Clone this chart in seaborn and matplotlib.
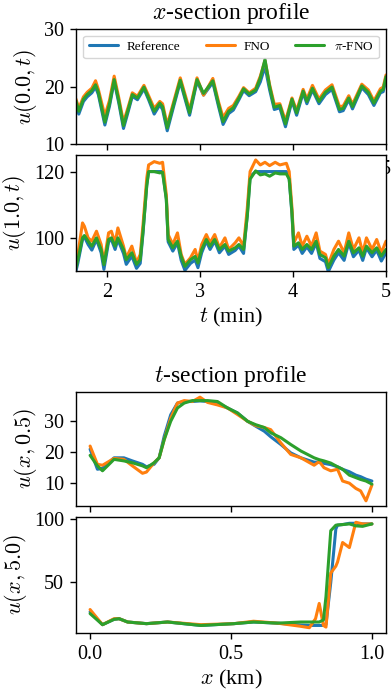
import numpy as np
import pandas as pd
import seaborn as sns
import matplotlib
matplotlib.use("Agg")
import matplotlib.pyplot as plt

# ---------------- data ----------------
series_names = ["Reference", "FNO", r"$\pi$-FNO"]
series_colors = ["#1f77b4", "#ff7f0e", "#2ca02c"]

# x-section, u(0.0, t)
t1 = [1.67, 1.70, 1.75, 1.79, 1.84, 1.88, 1.91, 1.98, 2.03, 2.08,
      2.13, 2.18, 2.23, 2.275, 2.33, 2.40, 2.45, 2.51, 2.57, 2.60,
      2.65, 2.72, 2.79, 2.89, 2.97, 3.04, 3.14, 3.20, 3.25, 3.31,
      3.36, 3.42, 3.47, 3.53, 3.60, 3.65, 3.70, 3.75, 3.80, 3.86,
      3.92, 3.99, 4.04, 4.11, 4.15, 4.21, 4.28, 4.35, 4.42, 4.50,
      4.54, 4.60, 4.64, 4.74, 4.81, 4.87, 4.94, 4.97, 5.00]
ref1 = [17.2, 15.2, 17.4, 18.2, 18.9, 19.9, 18.6, 13.3, 16.6, 20.9,
        17.1, 12.7, 15.6, 18.3, 17.7, 19.6, 17.7, 15.2, 16.8, 16.0,
        12.3, 16.6, 20.8, 15.0, 20.9, 18.5, 20.7, 16.6, 13.4, 15.3,
        15.9, 17.7, 19.3, 18.4, 19.1, 20.8, 23.5, 19.4, 16.0, 16.3,
        13.0, 17.5, 15.0, 18.9, 17.0, 19.4, 17.0, 18.6, 19.5, 15.6,
        15.8, 17.7, 16.1, 19.8, 18.6, 16.7, 18.9, 19.1, 21.3]
fno1 = [17.8, 16.2, 18.2, 19.0, 19.7, 21.0, 19.5, 14.9, 17.6, 21.8,
        18.0, 13.8, 16.4, 18.9, 18.3, 20.2, 18.4, 16.2, 17.4, 17.0,
        13.3, 17.4, 21.5, 15.9, 21.5, 18.5, 21.4, 17.4, 14.6, 16.2,
        16.7, 18.3, 19.8, 18.9, 19.7, 21.8, 24.5, 20.3, 16.9, 17.0,
        14.0, 18.0, 15.8, 19.5, 17.8, 20.2, 17.8, 19.4, 20.3, 16.5,
        16.6, 18.4, 16.9, 20.4, 19.4, 17.5, 19.6, 19.9, 22.0]
pifno1 = [17.5, 15.7, 17.8, 18.6, 19.3, 20.3, 19.0, 13.8, 17.0, 21.2,
          17.5, 13.2, 16.0, 18.6, 18.0, 19.9, 18.0, 15.7, 17.1, 16.5,
          12.8, 17.0, 21.1, 15.4, 21.2, 18.8, 21.0, 17.0, 13.9, 15.7,
          16.3, 18.0, 19.6, 18.7, 19.4, 21.5, 24.7, 20.0, 16.4, 16.7,
          13.5, 17.8, 15.4, 19.2, 17.4, 19.7, 17.4, 19.0, 19.9, 16.0,
          16.2, 18.0, 16.5, 20.1, 19.0, 17.1, 19.2, 19.5, 21.7]

# x-section, u(1.0, t)
t2 = [1.67, 1.69, 1.74, 1.76, 1.80, 1.84, 1.89, 1.94, 1.97, 2.02,
      2.05, 2.09, 2.12, 2.18, 2.21, 2.27, 2.32, 2.36, 2.39, 2.43,
      2.45, 2.51, 2.57, 2.60, 2.64, 2.66, 2.71, 2.76, 2.80, 2.84,
      2.90, 2.95, 2.98, 3.02, 3.07, 3.11, 3.16, 3.21, 3.27, 3.31,
      3.38, 3.42, 3.47, 3.51, 3.54, 3.60, 3.65, 3.70, 3.75, 3.81,
      3.86, 3.93, 3.96, 3.99, 4.01, 4.06, 4.10, 4.15, 4.20, 4.25,
      4.29, 4.35, 4.38, 4.44, 4.49, 4.55, 4.60, 4.65, 4.71, 4.75,
      4.79, 4.85, 4.90, 4.95, 5.00]
ref2 = [90.0, 92.4, 99.5, 100.3, 98.0, 96.3, 99.5, 95.5, 90.5, 98.8,
        99.5, 96.5, 99.5, 95.3, 92.0, 94.5, 90.8, 92.3, 101.5, 116.0,
        120.0, 120.0, 120.0, 120.0, 112.0, 98.8, 96.0, 98.5, 93.2, 90.2,
        92.3, 93.3, 91.0, 95.5, 99.0, 96.5, 99.0, 95.5, 97.5, 95.0,
        96.2, 97.5, 95.3, 107.0, 118.5, 120.0, 120.0, 120.0, 120.0, 120.0,
        120.0, 120.0, 118.0, 107.0, 96.5, 97.8, 95.3, 97.3, 95.3, 98.5,
        93.8, 92.8, 89.8, 93.3, 95.5, 93.2, 98.5, 94.3, 96.3, 93.2,
        97.0, 94.3, 96.3, 93.0, 95.5]
fno2 = [92.0, 95.0, 104.5, 103.5, 100.0, 99.0, 102.0, 98.0, 92.5, 101.5,
        102.0, 98.5, 103.0, 97.5, 94.0, 97.5, 92.5, 95.0, 104.0, 118.0,
        122.0, 123.0, 122.5, 122.8, 113.0, 101.0, 98.0, 101.5, 95.0, 92.0,
        94.0, 96.5, 93.0, 98.0, 101.0, 98.5, 101.0, 97.0, 100.0, 96.5,
        98.5, 100.0, 97.5, 109.0, 120.0, 123.5, 122.0, 122.8, 121.8, 122.8,
        122.0, 122.5, 120.0, 109.0, 98.5, 101.5, 97.5, 100.5, 97.5, 101.5,
        96.0, 95.0, 92.0, 96.5, 99.0, 95.5, 101.5, 96.5, 100.0, 95.5,
        100.0, 96.5, 99.5, 95.5, 99.0]
pifno2 = [91.0, 93.4, 100.0, 100.7, 99.0, 97.5, 100.0, 96.5, 91.9, 99.5,
          100.0, 97.5, 100.0, 96.5, 93.4, 95.5, 92.0, 93.4, 102.0, 115.7,
          120.0, 120.0, 119.6, 119.8, 111.6, 99.5, 97.0, 99.0, 94.4, 91.4,
          93.4, 94.4, 92.4, 96.5, 99.5, 97.5, 99.5, 96.5, 98.0, 96.0,
          97.0, 98.0, 96.5, 106.6, 117.7, 120.2, 119.0, 119.3, 118.6, 119.6,
          119.3, 119.3, 117.7, 107.6, 97.5, 98.5, 96.5, 98.0, 96.5, 99.0,
          95.0, 94.0, 91.0, 94.5, 96.5, 94.5, 99.0, 95.5, 97.0, 94.5,
          97.5, 95.5, 97.0, 94.5, 96.5]

# t-section, u(x, 0.5)
x3 = [0.0, 0.026, 0.044, 0.085, 0.12, 0.15, 0.186, 0.20, 0.227, 0.245,
      0.263, 0.286, 0.31, 0.334, 0.363, 0.39, 0.417, 0.452, 0.488, 0.523,
      0.559, 0.588, 0.618, 0.641, 0.677, 0.712, 0.748, 0.795, 0.813, 0.83,
      0.854, 0.878, 0.896, 0.92, 0.943, 0.96, 0.979, 1.0]
ref3 = [21.0, 14.5, 14.8, 18.2, 18.2, 17.2, 16.1, 15.3, 16.1, 18.2,
        25.2, 32.1, 35.9, 36.4, 36.4, 36.6, 36.4, 35.9, 34.3, 32.7,
        30.0, 28.4, 26.8, 25.0, 22.5, 19.8, 18.2, 16.8, 16.8, 16.4,
        16.0, 15.3, 14.5, 13.7, 12.6, 12.1, 11.3, 10.7]
fno3 = [22.0, 16.1, 15.8, 18.0, 17.7, 15.6, 13.2, 13.6, 16.6, 18.2,
        24.1, 31.0, 35.9, 36.7, 36.4, 37.8, 36.1, 35.3, 34.3, 32.2,
        30.0, 28.6, 28.0, 27.3, 23.0, 19.3, 18.2, 15.8, 17.0, 15.0,
        14.0, 14.5, 10.7, 10.0, 8.3, 7.5, 4.3, 9.4]
pifno3 = [19.0, 15.6, 14.0, 17.7, 17.2, 16.6, 15.6, 15.0, 16.6, 18.2,
          24.1, 30.0, 34.3, 35.9, 36.7, 36.7, 36.7, 36.4, 34.3, 32.7,
          30.0, 28.9, 28.0, 26.3, 24.7, 22.5, 20.4, 18.2, 17.6, 17.2,
          16.5, 15.3, 14.5, 12.6, 11.8, 11.2, 10.7, 9.7]

# t-section, u(x, 5.0)
x4 = [0.0, 0.044, 0.085, 0.103, 0.133, 0.2, 0.275, 0.393, 0.51, 0.58,
      0.665, 0.748, 0.778, 0.80, 0.813, 0.828, 0.837, 0.854, 0.872, 0.878,
      0.896, 0.92, 0.943, 0.967, 1.0]
ref4 = [26.9, 16.8, 21.0, 21.5, 18.9, 17.6, 18.9, 16.2, 17.6, 18.9,
        18.0, 16.5, 16.2, 16.2, 16.2, 16.2, 17.0, 50.0, 92.0, 95.0,
        95.5, 96.5, 96.5, 96.0, 96.0]
fno4 = [28.7, 16.8, 21.5, 21.5, 18.9, 17.6, 18.9, 16.8, 17.6, 19.5,
        18.0, 15.5, 14.4, 21.5, 33.5, 16.2, 14.9, 57.4, 62.8, 66.0,
        81.4, 77.4, 97.3, 96.0, 96.0]
pifno4 = [25.5, 16.8, 21.0, 21.5, 18.9, 17.6, 18.9, 16.2, 17.6, 18.9,
          18.0, 18.9, 18.9, 18.9, 18.9, 20.5, 38.8, 90.7, 95.0, 95.2,
          95.5, 96.0, 94.5, 94.1, 96.0]

# ---------------- style ----------------
sns.set_style("ticks")
plt.rcParams["font.family"] = ["Liberation Serif", "DejaVu Serif"]
plt.rcParams["mathtext.fontset"] = "cm"
plt.rcParams["axes.edgecolor"] = "black"
plt.rcParams["xtick.color"] = "black"
plt.rcParams["ytick.color"] = "black"
plt.rcParams["text.color"] = "black"
plt.rcParams["axes.labelcolor"] = "black"

W, H = 391, 696
fig = plt.figure(figsize=(W / 100, H / 100), dpi=100)

def add_ax(left, right, top, bottom):
    return fig.add_axes([left / W, (H - bottom) / H, (right - left) / W, (bottom - top) / H])

TICK = 14.5
LAB = 16
TIT = 17

def draw(ax, x, ys, legend=False):
    for y, name, c in zip(ys, series_names, series_colors):
        df = pd.DataFrame({"x": x, "y": y})
        sns.lineplot(data=df, x="x", y="y", ax=ax, color=c, linewidth=2.2,
                     label=name if legend else None, estimator=None, sort=False)
    ax.tick_params(labelsize=TICK, width=1.0, length=4.5, pad=4)
    for s in ax.spines.values():
        s.set_linewidth(1.0)
    ax.set_facecolor("white")

ax1 = add_ax(76, 386, 29, 144)
draw(ax1, t1, [ref1, fno1, pifno1], legend=True)
ax1.set_xlim(1.67, 5.0)
ax1.set_ylim(10, 30)
ax1.set_yticks([10, 20, 30])
ax1.set_xticks([2, 3, 4, 5])
ax1.tick_params(axis="x", pad=7)
ax1.set_xlabel("")
ax1.set_ylabel(r"$u(0.0, t)$", fontsize=LAB)
ax1.set_title(r"$x$-section profile", fontsize=TIT, pad=7)
ax1.legend(loc="upper center", ncol=3, fontsize=9.5, handlelength=2.2,
           handletextpad=0.7, columnspacing=1.9, borderaxespad=0.5)

ax2 = add_ax(76, 386, 155, 271)
draw(ax2, t2, [ref2, fno2, pifno2])
ax2.set_xlim(1.67, 5.0)
ax2.set_ylim(90, 125)
ax2.set_yticks([100, 120])
ax2.set_xticks([2, 3, 4, 5])
ax2.set_xlabel(r"$t$ (min)", fontsize=LAB, labelpad=3)
ax2.set_ylabel(r"$u(1.0, t)$", fontsize=LAB)

ax3 = add_ax(76, 386, 392, 506)
draw(ax3, x3, [ref3, fno3, pifno3])
ax3.set_xticks([0.0, 0.5, 1.0])
ax3.set_yticks([10, 20, 30])
ax3.tick_params(axis="x", pad=7)
ax3.set_xlabel("")
ax3.set_ylabel(r"$u(x, 0.5)$", fontsize=LAB)
ax3.set_title(r"$t$-section profile", fontsize=TIT, pad=7)

ax4 = add_ax(76, 386, 517, 633)
draw(ax4, x4, [ref4, fno4, pifno4])
ax4.set_xlim(ax3.get_xlim())
ax4.set_xticks([0.0, 0.5, 1.0])
ax4.set_yticks([50, 100])
ax4.set_xlabel(r"$x$ (km)", fontsize=LAB, labelpad=3)
ax4.set_ylabel(r"$u(x, 5.0)$", fontsize=LAB)

fig.align_ylabels([ax1, ax2, ax3, ax4])
fig.savefig("out.png", dpi=100)
